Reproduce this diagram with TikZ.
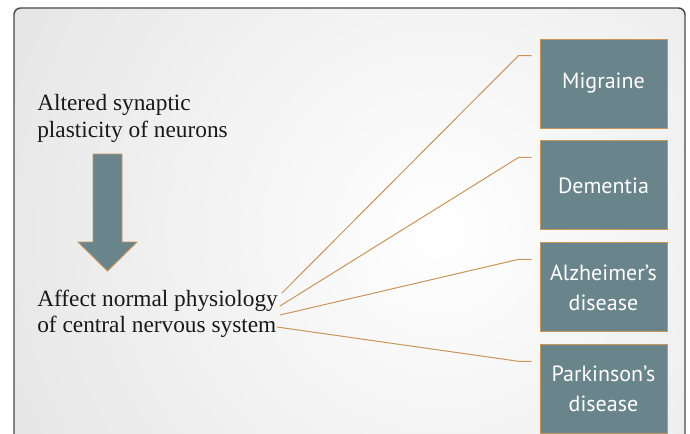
\documentclass[tikz,border=0pt]{standalone}
\usepackage{fontspec}
\setmainfont{Liberation Serif}
\newfontfamily\boxfont{PT Sans}
\usetikzlibrary{positioning,calc}
\definecolor{slate}{HTML}{6A848C}
\definecolor{tan}{HTML}{C8955A}
\definecolor{framegray}{HTML}{4A4A4A}

\begin{document}
\begin{tikzpicture}[x=0.75pt,y=-0.75pt,
	disease/.style={draw=tan,fill=slate,line width=0.7pt,minimum width=95.25pt,minimum height=66.75pt,inner sep=0pt,
		text=white,align=center,font=\boxfont\fontsize{16.5}{22.5}\selectfont},
	cause/.style={anchor=north west,align=left,inner sep=0pt,text=black!90,font=\fontsize{17.5}{20}\selectfont},
	link/.style={draw=tan,line width=0.75pt}]
	\useasboundingbox (0,0) rectangle (690,433);
	\clip (0,0) rectangle (690,433);
	% slide background
	\begin{scope}
		\clip[rounded corners=5pt] (14,8) rectangle (685,450);
		\fill[black!17] (14,8) rectangle (685,450);
		\shade[inner color=white,outer color=black!17] (440,230) circle (820);
	\end{scope}
	\draw[framegray,line width=1.1pt,rounded corners=5pt] (14,8) rectangle (685,450);
	% left column
	\node[cause] (altered) at (37,94) {Altered synaptic\\plasticity of neurons};
	\node[cause] (affect) at (37,289.5) {Affect normal physiology\\of central nervous system};
	\draw[draw=tan,fill=slate,line width=0.7pt] (93,154) -- (122,154) -- (122,242) -- (137,242) -- (107.5,271) -- (78,242) -- (93,242) -- cycle;
	% diseases
	\node[disease] (migraine) at (603.5,83.5) {Migraine};
	\node[disease,below=9pt of migraine] (dementia) {Dementia};
	\node[disease,below=9pt of dementia] (alzheimer) {Alzheimer’s\\disease};
	\node[disease,below=9pt of alzheimer] (parkinson) {Parkinson’s\\disease};
	% links
	\coordinate (s1) at (282,293);
	\coordinate (s2) at (280,306);
	\coordinate (s3) at (280,315);
	\coordinate (s4) at (277,327);
	\foreach \d/\s in {migraine/s1,dementia/s2,alzheimer/s3,parkinson/s4}
		\draw[link] (\s) -- ($(\d.west)+(-21,-28)$) -- ($(\d.west)+(-8,-28)$);
\end{tikzpicture}
\end{document}
